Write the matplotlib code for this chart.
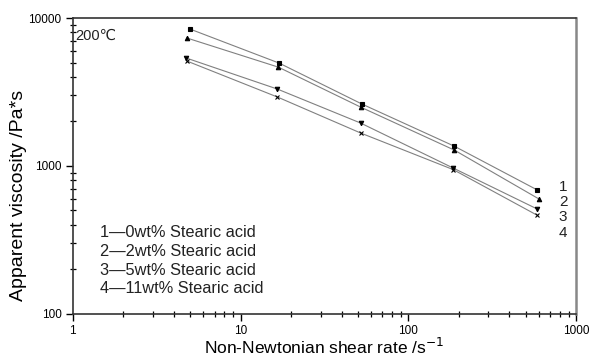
import matplotlib

matplotlib.use("Agg")
import matplotlib.pyplot as plt
from matplotlib.ticker import FixedLocator, LogLocator, NullFormatter

plt.rcParams["font.family"] = ["Liberation Sans", "DejaVu Sans"]

# shear rate (1/s) per series
shear_1 = [5.0, 17.0, 53.0, 188.0, 585.0]
shear_2 = [4.8, 16.8, 52.0, 188.0, 600.0]
shear_3 = [4.75, 16.6, 52.0, 185.0, 585.0]
shear_4 = [4.8, 16.6, 52.0, 185.0, 580.0]

# apparent viscosity (Pa*s)
visc_1 = [8430, 4960, 2620, 1360, 689]
visc_2 = [7330, 4660, 2500, 1280, 598]
visc_3 = [5370, 3310, 1950, 968, 512]
visc_4 = [5120, 2925, 1670, 945, 467]

series_tags = ["1", "2", "3", "4"]
legend_lines = [
    "1\u20140wt% Stearic acid",
    "2\u20142wt% Stearic acid",
    "3\u20145wt% Stearic acid",
    "4\u201411wt% Stearic acid",
]

fig = plt.figure(figsize=(5.91, 3.62), dpi=100)
ax = fig.add_axes([0.123, 0.133, 0.852, 0.817])

markers = ["s", "^", "v", "x"]
data = [(shear_1, visc_1), (shear_2, visc_2), (shear_3, visc_3), (shear_4, visc_4)]
for (x, y), m in zip(data, markers):
    ax.plot(x, y, color="#808080", linewidth=0.8, zorder=1)
    ax.plot(x, y, linestyle="none", marker=m, markersize=3.2,
            color="black", markeredgewidth=0.8, zorder=2)

ax.set_xscale("log")
ax.set_yscale("log")
ax.set_xlim(1, 1000)
ax.set_ylim(100, 10000)

ax.xaxis.set_major_locator(FixedLocator([1, 10, 100, 1000]))
ax.xaxis.set_minor_locator(LogLocator(base=10, subs=range(2, 10)))
ax.xaxis.set_minor_formatter(NullFormatter())
ax.set_xticklabels(["1", "10", "100", "1000"])
ax.yaxis.set_major_locator(FixedLocator([100, 1000, 10000]))
ax.yaxis.set_minor_locator(LogLocator(base=10, subs=range(2, 10)))
ax.yaxis.set_minor_formatter(NullFormatter())
ax.set_yticklabels(["100", "1000", "10000"])

ax.tick_params(which="major", direction="out", length=5, width=1.0,
               labelsize=8.5, top=False, right=False, pad=3)
ax.tick_params(which="minor", direction="inout", length=4, width=0.9,
               top=False, right=False)
for side in ["left", "bottom", "top"]:
    ax.spines[side].set_linewidth(1.2)
    ax.spines[side].set_color("#333333")
ax.spines["right"].set_linewidth(1.8)
ax.spines["right"].set_color("#888888")

ax.set_xlabel("Non-Newtonian shear rate /s$^{-1}$", fontsize=12.5, labelpad=0)
ax.set_ylabel("Apparent viscosity /Pa*s", fontsize=14)
ax.yaxis.set_label_coords(-0.091, 0.40)

ax.text(0.006, 0.94, "200\u2103", transform=ax.transAxes, fontsize=10.5,
        ha="left", va="center", color="#222222")

# series numbers at the right end of the curves
tag_y = [720, 571, 452, 352]
for tag, yv in zip(series_tags, tag_y):
    ax.text(836, yv, tag, fontsize=11, ha="center", va="center", color="#222222")

for i, line in enumerate(legend_lines):
    ax.text(0.054, 0.274 - i * 0.063, line, transform=ax.transAxes,
            fontsize=11.8, ha="left", va="center", color="#222222")

fig.savefig("out.png", dpi=100)
